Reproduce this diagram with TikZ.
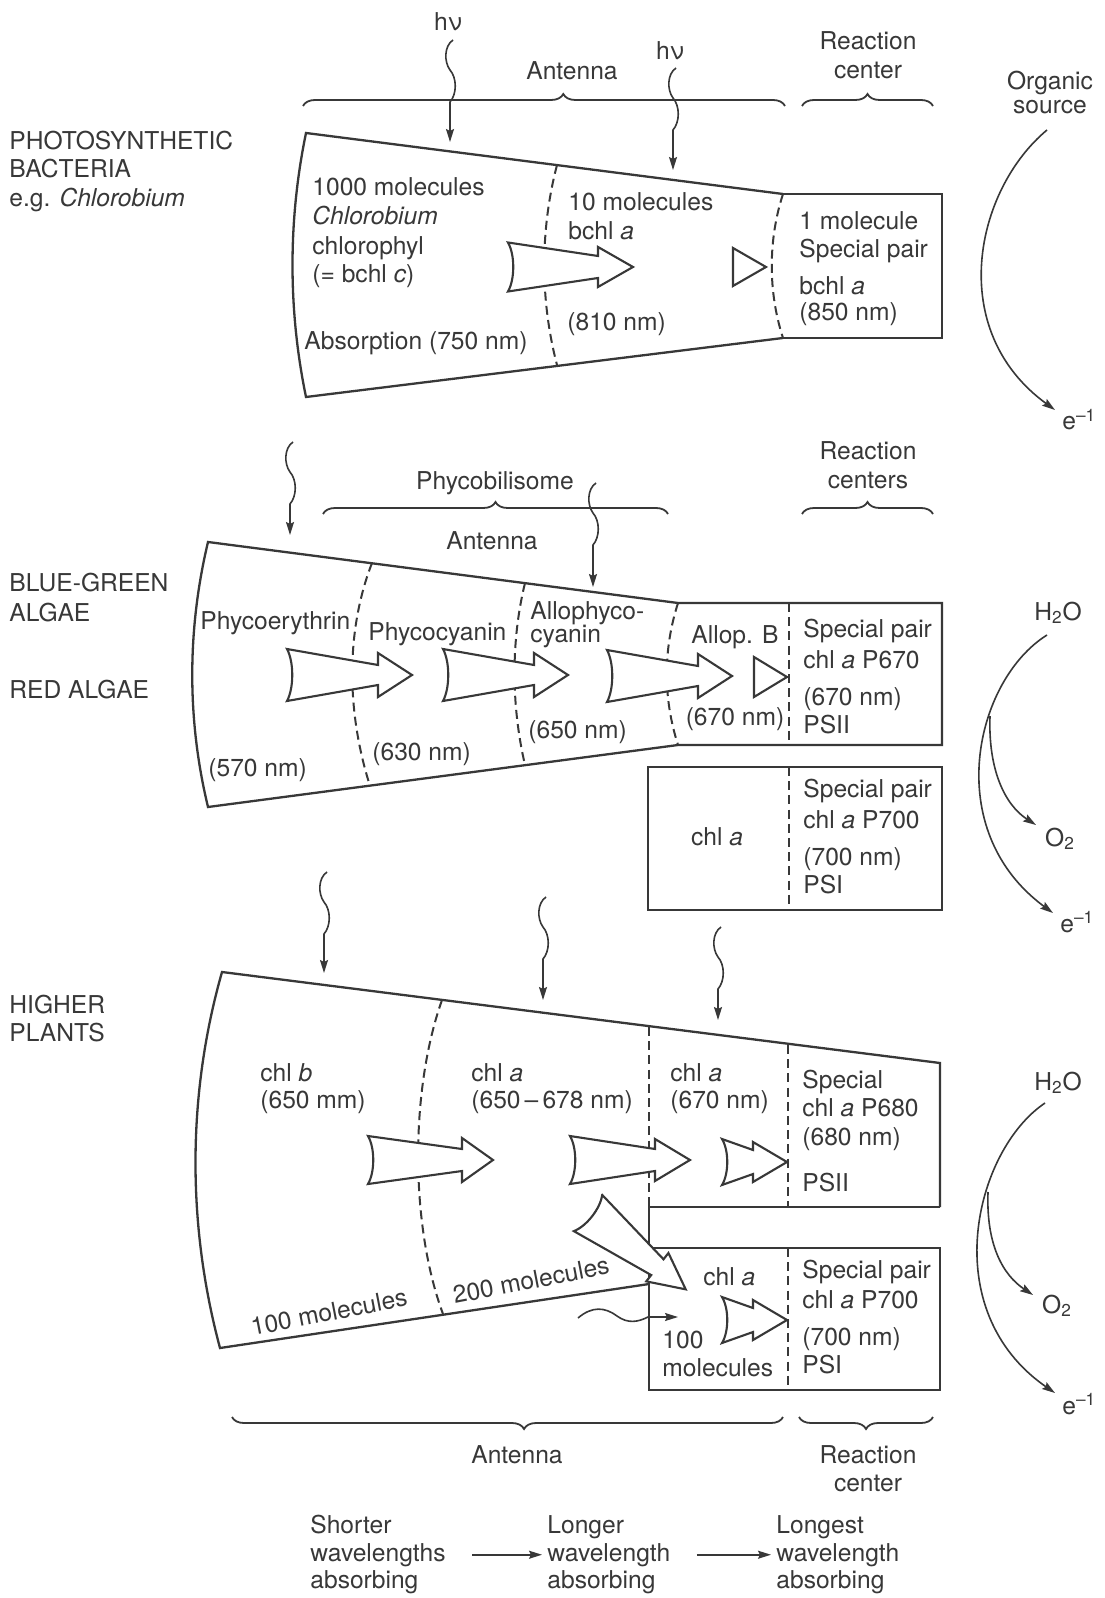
\documentclass[tikz,border=0pt]{standalone}
\usepackage{fontspec}
\setmainfont{TeX Gyre Heros}
\usetikzlibrary{decorations.pathreplacing,arrows.meta}
\definecolor{ink}{rgb}{0.22,0.22,0.22}
\newcommand\fs{\fontsize{12.3}{14.5}\selectfont}
% #1 name, #2 x, #3 y, #4 rot, #5 L, #6 H, #7 tail half, #8 shaft half, #9 head half
\newcommand\fatarrow[9]{%
  \begin{scope}[shift={(#2,#3)},rotate=#4]
    \draw[fat] (0,-#7) -- (#5,-#8) -- (#5,-#9) -- ({#5+#6},0) coordinate (#1) -- (#5,#9) -- (#5,#8) -- (0,#7)
      .. controls (7,{#7/2}) and (7,{-#7/2}) .. cycle;
  \end{scope}}
% #1 name, #2 x, #3 y0, #4 y1
\newcommand\wavyv[4]{%
  \coordinate (#1) at (#2,#4);
  \draw[wv] ({#2+3},#3) .. controls ({#2-6},{#3+6}) and ({#2-6},{#3+22}) .. (#2,{#3+30})
     .. controls ({#2+7},{#3+38}) and ({#2+7},{#3+54}) .. (#2,{#3+62}) -- (#1);}
\newcommand\tri[4]{% #1 name, #2 base x, #3 y, #4 half
  \draw[fat] (#2,{#3-#4}) -- ({#2+33},#3) coordinate (#1) -- (#2,{#3+#4}) -- cycle;}
\begin{document}
\begin{tikzpicture}[x=0.5pt,y=-0.5pt,
  outl/.style={draw=ink,line width=1.15pt,line join=miter},
  dsh/.style={draw=ink,line width=1pt,dash pattern=on 4.5pt off 2.6pt},
  fat/.style={draw=ink,fill=white,line width=1.05pt,line join=miter},
  wv/.style={draw=ink,line width=0.8pt,-{Stealth[length=6.5pt,width=4pt,inset=1pt]}},
  flow/.style={draw=ink,line width=0.8pt,-{Stealth[length=6.5pt,width=4pt,inset=1pt]}},
  brc/.style={draw=ink,line width=0.9pt,decorate,decoration={brace,amplitude=6pt,aspect=#1}},
  brc/.default=0.5,
  tx/.style={font=\fs,text=ink,inner sep=0pt,anchor=base west},
  tc/.style={font=\fs,text=ink,inner sep=0pt,anchor=base}]
\useasboundingbox[fill=white] (0,0) rectangle (1104,1598);

% ================= Section 1 =================
\node[tx] (lb1a) at (9,150) {PHOTOSYNTHETIC};
\node[tx] (lb1b) at (9,178) {BACTERIA};
\node[tx] (lb1c) at (9,207) {e.g. \textit{Chlorobium}};

\node[tc] (hv1) at (448,31) {hν};
\node[tc] (hv2) at (670,60) {hν};
\node[tc] (ant1) at (572,80) {Antenna};
\node[tc] (rc1a) at (868,50) {Reaction};
\node[tc] (rc1b) at (868,79) {center};
\node[tc] (org1) at (1050,90) {Organic};
\node[tc] (org2) at (1050,114) {source};

\draw[brc=0.54] (303,106) -- (785,106);
\draw[brc] (802,106) -- (933,106);

\draw[outl] (783,194) -- (306,133) .. controls (288,220) and (288,310) .. (306,397) -- (783,338);
\draw[outl] (783,194) -- (942,194) -- (942,338) -- (783,338);
\draw[dsh] (557,165) .. controls (540,230) and (540,300) .. (557,365);
\draw[dsh] (783,194) .. controls (768,240) and (768,292) .. (783,338);

\wavyv{w11}{450}{40}{142}
\wavyv{w12}{673}{68}{170}

\fatarrow{fa11}{508}{267}{0}{90}{35}{24.5}{11}{20}
\tri{tr11}{733}{267}{19}

\node[tx] (t11) at (312,196) {1000 molecules};
\node[tx] (t12) at (312,225) {\textit{Chlorobium}};
\node[tx] (t13) at (312,255) {chlorophyl};
\node[tx] (t14) at (312,283) {(= bchl \textit{c})};
\node[tx] (t15) at (304,350) {Absorption (750 nm)};
\node[tx] (t16) at (568,211) {10 molecules};
\node[tx] (t17) at (568,240) {bchl \textit{a}};
\node[tx] (t18) at (567,331) {(810 nm)};
\node[tx] (t19) at (799,230) {1 molecule};
\node[tx] (t110) at (799,258) {Special pair};
\node[tx] (t111) at (799,295) {bchl \textit{a}};
\node[tx] (t112) at (799,321) {(850 nm)};

\coordinate (s1a) at (1047,130);
\coordinate (s1b) at (1055,410);
\draw[flow] (s1a) .. controls (975,190) and (945,330) .. (s1b);
\node[tx] (e1) at (1062,430) {e\textsuperscript{–1}};

% ================= Section 2 =================
\node[tx] (lb2a) at (9,591) {BLUE-GREEN};
\node[tx] (lb2b) at (9,621) {ALGAE};
\node[tx] (lb2c) at (9,698) {RED ALGAE};

\node[tc] (rc2a) at (868,460) {Reaction};
\node[tc] (rc2b) at (868,488) {centers};
\node[tc] (phy) at (495,490) {Phycobilisome};
\node[tc] (ant2) at (492,549) {Antenna};
\draw[brc] (323,514) -- (668,514);
\draw[brc] (802,514) -- (933,514);

\draw[outl] (942,603) -- (678,603) -- (208,542) .. controls (187,630) and (187,720) .. (208,807) -- (678,745) -- (942,745) -- cycle;
\draw[outl] (648,767) rectangle (942,910);
\draw[dsh] (372,563) .. controls (346,630) and (346,710) .. (370,786);
\draw[dsh] (525,583) .. controls (511,640) and (511,705) .. (525,765);
\draw[dsh] (678,603) .. controls (663,650) and (663,698) .. (678,745);
\draw[dsh] (789,603) -- (789,745);
\draw[dsh] (789,767) -- (789,910);

\wavyv{w21}{290}{442}{535}
\wavyv{w22}{593}{483}{587}

\fatarrow{fa21}{287}{675}{0}{91}{34}{26}{10}{22}
\fatarrow{fa22}{443}{675}{0}{91}{34}{26}{10}{22}
\fatarrow{fa23}{607}{676}{0}{91}{34}{26}{10}{22}
\tri{tr21}{754}{677}{20}

\node[tx] (t21) at (200,629) {Phycoerythrin};
\node[tx] (t22) at (368,640) {Phycocyanin};
\node[tx] (t23) at (530,619) {Allophyco-};
\node[tx] (t24) at (530,642) {cyanin};
\node[tc] (t25) at (735,643) {Allop. B};
\node[tc] (t26) at (735,725) {(670 nm)};
\node[tx] (t27) at (208,776) {(570 nm)};
\node[tx] (t28) at (372,760) {(630 nm)};
\node[tx] (t29) at (528,738) {(650 nm)};
\node[tx] (t210) at (803,637) {Special pair};
\node[tx] (t211) at (803,668) {chl \textit{a} P670};
\node[tx] (t212) at (803,705) {(670 nm)};
\node[tx] (t213) at (803,733) {PSII};
\node[tc] (t214) at (717,845) {chl \textit{a}};
\node[tx] (t215) at (803,797) {Special pair};
\node[tx] (t216) at (803,828) {chl \textit{a} P700};
\node[tx] (t217) at (803,865) {(700 nm)};
\node[tx] (t218) at (803,893) {PSI};

\node[tc] (h2o2) at (1058,620) {H\textsubscript{2}O};
\node[tc] (o22) at (1060,846) {O\textsubscript{2}};
\node[tx] (e2) at (1060,932) {e\textsuperscript{–1}};
\coordinate (s2a) at (1047,635);
\coordinate (s2b) at (1053,913);
\coordinate (s2c) at (1036,825);
\draw[flow] (s2a) .. controls (975,680) and (940,830) .. (s2b);
\draw[flow] (990,716) .. controls (988,770) and (1005,805) .. (s2c);

% ================= Section 3 =================
\node[tx] (lb3a) at (9,1013) {HIGHER};
\node[tx] (lb3b) at (9,1041) {PLANTS};

\draw[outl] (940,1207) -- (940,1063) -- (222,972) .. controls (187,1095) and (187,1225) .. (220,1348) -- (649,1284);
\draw[outl] (940,1207) -- (649,1207) -- (649,1248);
\draw[outl] (649,1248) rectangle (940,1390);
\draw[dsh] (442,1000) .. controls (410,1090) and (410,1225) .. (443,1314);
\draw[dsh] (649,1027) -- (649,1207);
\draw[dsh] (788,1045) -- (788,1207);
\draw[dsh] (788,1248) -- (788,1390);

\wavyv{w31}{324}{872}{973}
\wavyv{w32}{543}{897}{1000}
\wavyv{w33}{718}{927}{1020}

\fatarrow{fa31}{368}{1160}{0}{94}{31}{24}{11}{22}
\fatarrow{fa32}{570}{1160}{0}{85}{35}{24}{11}{21}
\fatarrow{fa33}{722}{1162}{0}{31}{34}{23}{12}{20}
\fatarrow{fa34}{722}{1320}{0}{31}{34}{23}{12}{20}
\fatarrow{fa35}{588}{1213}{-38}{88}{36}{23}{10}{18}

\coordinate (hw1) at (578,1318);
\coordinate (hw2) at (678,1317);
\draw[wv] (hw1) .. controls (592,1306) and (605,1307) .. (617,1316) .. controls (628,1324) and (638,1322) .. (648,1317) -- (hw2);

\node[tx] (t31) at (260,1081) {chl \textit{b}};
\node[tx] (t32) at (260,1108) {(650 mm)};
\node[tx] (t33) at (471,1081) {chl \textit{a}};
\node[tx] (t34) at (471,1108) {(650\,–\,678 nm)};
\node[tx] (t35) at (670,1081) {chl \textit{a}};
\node[tx] (t36) at (670,1108) {(670 nm)};
\node[tx] (t37) at (802,1088) {Special};
\node[tx] (t38) at (802,1116) {chl \textit{a} P680};
\node[tx] (t39) at (802,1145) {(680 nm)};
\node[tx] (t310) at (802,1191) {PSII};
\node[tx] (t311) at (703,1285) {chl \textit{a}};
\node[tx] (t312) at (662,1348) {100};
\node[tx] (t313) at (662,1376) {molecules};
\node[tx] (t314) at (802,1278) {Special pair};
\node[tx] (t315) at (802,1308) {chl \textit{a} P700};
\node[tx] (t316) at (802,1345) {(700 nm)};
\node[tx] (t317) at (802,1373) {PSI};
\node[font=\fs,text=ink,inner sep=0pt,rotate=11] (t318) at (329,1312) {100 molecules};
\node[font=\fs,text=ink,inner sep=0pt,rotate=11] (t319) at (531,1280) {200 molecules};

\node[tc] (h2o3) at (1058,1090) {H\textsubscript{2}O};
\node[tc] (o23) at (1057,1313) {O\textsubscript{2}};
\node[tx] (e3) at (1062,1414) {e\textsuperscript{–1}};
\coordinate (s3a) at (1045,1103);
\coordinate (s3b) at (1055,1393);
\coordinate (s3c) at (1033,1295);
\draw[flow] (s3a) .. controls (975,1150) and (935,1310) .. (s3b);
\draw[flow] (988,1192) .. controls (986,1245) and (1003,1275) .. (s3c);

% ================= Bottom =================
\draw[brc=0.47] (783,1417) -- (232,1417);
\draw[brc] (933,1417) -- (799,1417);
\node[tc] (ant3) at (517,1463) {Antenna};
\node[tc] (rc3a) at (868,1463) {Reaction};
\node[tc] (rc3b) at (868,1491) {center};

\node[tx] (b11) at (310,1533) {Shorter};
\node[tx] (b12) at (310,1561) {wavelengths};
\node[tx] (b13) at (310,1588) {absorbing};
\node[tx] (b21) at (547,1533) {Longer};
\node[tx] (b22) at (547,1561) {wavelength};
\node[tx] (b23) at (547,1588) {absorbing};
\node[tx] (b31) at (776,1533) {Longest};
\node[tx] (b32) at (776,1561) {wavelength};
\node[tx] (b33) at (776,1588) {absorbing};
\draw[flow,shorten <=13pt,shorten >=2.5pt] (b12.east) -- (b22.west);
\draw[flow,shorten <=13pt,shorten >=2.5pt] (b22.east) -- (b32.west);
\end{tikzpicture}
\end{document}
